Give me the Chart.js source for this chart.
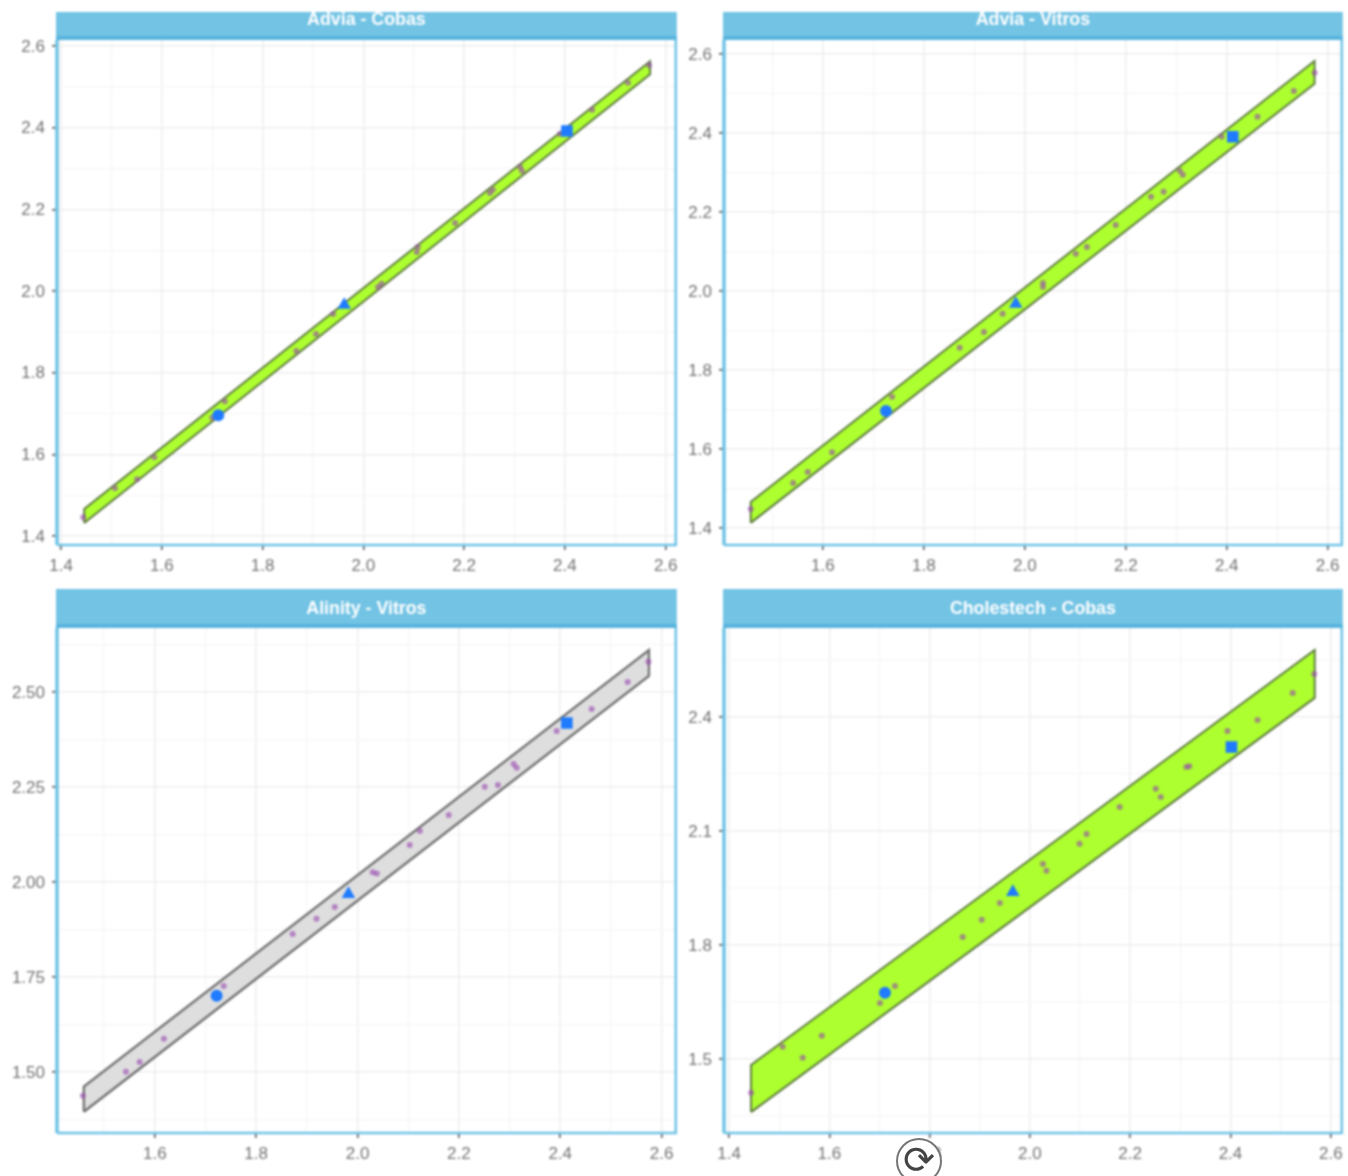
<!DOCTYPE html>
<html>
<head>
<meta charset="utf-8">
<title>Method comparison panels</title>
<script src="https://cdn.jsdelivr.net/npm/chart.js@4"></script>
<style>
html,body{margin:0;padding:0;background:#fff;width:1348px;height:1176px;overflow:hidden}
canvas{position:absolute;filter:blur(1.1px)}
#rerun{position:absolute;left:896px;top:1138px;width:42px;height:42px;border:2px solid #777;border-radius:50%;background:#fff;
 color:#444;font:38px/40px "DejaVu Sans",sans-serif;text-align:center;filter:blur(0.7px)}
</style>
</head>
<body>
<canvas id="c1" style="left:0;top:0"></canvas>
<canvas id="c2" style="left:680px;top:0"></canvas>
<canvas id="c3" style="left:0;top:582px"></canvas>
<canvas id="c4" style="left:680px;top:582px"></canvas>
<div id="rerun">⟳</div>
<script>
// Panel 1: Advia - Cobas
const p1Title = "Advia - Cobas";
const p1X = [1.444,1.507,1.551,1.585,1.700,1.725,1.867,1.906,1.940,2.029,2.036,2.106,2.108,2.182,2.251,2.257,2.311,2.315,2.390,2.454,2.525,2.567];
const p1Y = [1.446,1.517,1.539,1.593,1.690,1.730,1.853,1.895,1.944,2.010,2.018,2.096,2.108,2.167,2.240,2.248,2.304,2.294,2.385,2.444,2.510,2.553];
const p1BandX = [1.446,1.446,2.569,2.569,1.446];
const p1BandY = [1.432,1.466,2.563,2.531,1.432];
const p1BlueX = [1.712,1.962,2.404];
const p1BlueY = [1.696,1.966,2.392];
const p1XTicks = [1.4,1.6,1.8,2.0,2.2,2.4,2.6];
const p1XMinor = [1.5,1.7,1.9,2.1,2.3,2.5];
const p1YTicks = [1.4,1.6,1.8,2.0,2.2,2.4,2.6];
const p1YMinor = [1.5,1.7,1.9,2.1,2.3,2.5];

// Panel 2: Advia - Vitros
const p2Title = "Advia - Vitros";
const p2X = [1.457,1.541,1.570,1.618,1.737,1.871,1.919,1.956,2.036,2.036,2.101,2.123,2.180,2.250,2.275,2.307,2.313,2.390,2.461,2.533,2.574];
const p2Y = [1.448,1.514,1.542,1.592,1.732,1.856,1.896,1.942,2.020,2.010,2.094,2.111,2.167,2.238,2.251,2.304,2.294,2.390,2.441,2.506,2.552];
const p2BandX = [1.457,1.457,2.574,2.574,1.457];
const p2BandY = [1.413,1.466,2.582,2.524,1.413];
const p2BlueX = [1.725,1.982,2.412];
const p2BlueY = [1.696,1.967,2.390];
const p2XTicks = [1.6,1.8,2.0,2.2,2.4,2.6];
const p2XMinor = [1.5,1.7,1.9,2.1,2.3,2.5];
const p2YTicks = [1.4,1.6,1.8,2.0,2.2,2.4,2.6];
const p2YMinor = [1.5,1.7,1.9,2.1,2.3,2.5];

// Panel 3: Alinity - Vitros
const p3Title = "Alinity - Vitros";
const p3X = [1.458,1.543,1.570,1.618,1.736,1.872,1.919,1.955,2.030,2.038,2.103,2.123,2.180,2.251,2.277,2.308,2.314,2.393,2.462,2.533,2.574];
const p3Y = [1.437,1.500,1.526,1.587,1.726,1.863,1.903,1.934,2.025,2.022,2.097,2.134,2.176,2.250,2.255,2.310,2.300,2.397,2.455,2.526,2.579];
const p3BandX = [1.460,1.460,2.575,2.575,1.460];
const p3BandY = [1.395,1.461,2.610,2.542,1.395];
const p3BlueX = [1.722,1.982,2.413];
const p3BlueY = [1.700,1.968,2.418];
const p3XTicks = [1.6,1.8,2.0,2.2,2.4,2.6];
const p3XMinor = [1.5,1.7,1.9,2.1,2.3,2.5];
const p3YTicks = [1.50,1.75,2.00,2.25,2.50];
const p3YMinor = [1.375,1.625,1.875,2.125,2.375,2.625];

// Panel 4: Cholestech - Cobas
const p4Title = "Cholestech - Cobas";
const p4X = [1.444,1.507,1.547,1.585,1.701,1.731,1.866,1.904,1.940,2.026,2.033,2.099,2.113,2.179,2.251,2.261,2.312,2.318,2.394,2.454,2.524,2.567];
const p4Y = [1.411,1.532,1.503,1.561,1.647,1.692,1.821,1.866,1.910,2.013,1.995,2.066,2.092,2.163,2.211,2.189,2.268,2.270,2.363,2.392,2.463,2.513];
const p4BandX = [1.444,1.444,2.568,2.568,1.444];
const p4BandY = [1.360,1.484,2.576,2.450,1.360];
const p4BlueX = [1.711,1.966,2.402];
const p4BlueY = [1.674,1.939,2.321];
const p4XTicks = [1.4,1.6,1.8,2.0,2.2,2.4,2.6];
const p4XMinor = [1.5,1.7,1.9,2.1,2.3,2.5];
const p4YTicks = [1.5,1.8,2.1,2.4];
const p4YMinor = [1.35,1.65,1.95,2.25,2.55];

const FONT = '"Liberation Sans", Arial, sans-serif';
const pairs = (xs, ys) => xs.map((x, i) => ({ x, y: ys[i] }));

function axis(pos, min, max, majors, minors, digits, fit) {
  const isMajor = v => majors.some(m => Math.abs(m - v) < 1e-6);
  return {
    type: 'linear', position: pos, min, max,
    afterBuildTicks: a => {
      a.ticks = majors.concat(minors).sort((p, q) => p - q).map(v => ({ value: v }));
    },
    afterFit: fit,
    border: { display: false },
    grid: {
      color: c => isMajor(c.tick.value) ? '#eeeeee' : '#f6f6f6',
      lineWidth: c => isMajor(c.tick.value) ? 1.6 : 1.3,
      tickLength: 5,
      tickColor: c => isMajor(c.tick.value) ? '#555555' : 'rgba(0,0,0,0)'
    },
    ticks: {
      autoSkip: false, maxRotation: 0, minRotation: 0,
      padding: pos === 'left' ? 7 : 6,
      labelOffset: pos === 'left' ? 1 : 0,
      color: '#727272',
      font: { family: FONT, size: 17 },
      callback: v => isMajor(v) ? v.toFixed(digits) : ''
    }
  };
}

const frame = {
  id: 'frame',
  beforeDraw(chart, args, o) {
    const { ctx, chartArea: a } = chart;
    ctx.save();
    ctx.fillStyle = '#72c3e4';
    ctx.fillRect(a.left - 1, o.stripTop, a.width + 2, a.top - o.stripTop);
    ctx.fillStyle = '#58b4dd';
    ctx.fillRect(a.left - 1, a.top - 4, a.width + 2, 4);
    ctx.restore();
  },
  afterDatasetsDraw(chart) {
    const { ctx, chartArea: a } = chart;
    ctx.save();
    ctx.strokeStyle = '#6fc3e6';
    ctx.lineWidth = 2.5;
    ctx.beginPath();
    ctx.moveTo(a.right, a.top); ctx.lineTo(a.right, a.bottom); ctx.lineTo(a.left, a.bottom);
    ctx.stroke();
    ctx.lineWidth = 3.5;
    ctx.beginPath();
    ctx.moveTo(a.left, a.top); ctx.lineTo(a.left, a.bottom);
    ctx.stroke();
    ctx.restore();
  }
};

function panel(id, cfg) {
  const el = document.getElementById(id);
  el.width = cfg.w; el.height = cfg.h;
  el.style.width = cfg.w + 'px'; el.style.height = cfg.h + 'px';
  return new Chart(el, {
    type: 'scatter',
    plugins: [frame],
    data: {
      datasets: [
        { label: 'Reference', data: pairs(cfg.blueX, cfg.blueY), showLine: false,
          pointStyle: ['circle', 'triangle', 'rect'], pointRadius: [6, 7.8, 8.2],
          pointBackgroundColor: '#1f7bff', pointBorderWidth: 0 },
        { label: 'Samples', data: pairs(cfg.x, cfg.y), showLine: false,
          pointRadius: 3, pointBackgroundColor: 'rgba(150,70,175,0.6)', pointBorderWidth: 0 },
        { label: 'Band', data: pairs(cfg.bandX, cfg.bandY), showLine: true, tension: 0,
          fill: 'shape', backgroundColor: cfg.bandFill, borderColor: cfg.bandLine, borderWidth: cfg.bandWidth,
          pointRadius: 0 }
      ]
    },
    options: {
      responsive: false, animation: false,
      scales: {
        x: axis('bottom', cfg.xMin, cfg.xMax, cfg.xTicks, cfg.xMinor, 1, a => { a.height = cfg.axisH; }),
        y: axis('left', cfg.yMin, cfg.yMax, cfg.yTicks, cfg.yMinor, cfg.yDigits, a => { a.width = cfg.axisW; })
      },
      plugins: {
        legend: { display: false }, tooltip: { enabled: false },
        frame: { stripTop: cfg.stripTop },
        title: {
          display: true, text: cfg.title, color: '#ffffff', fullSize: false,
          font: { family: FONT, size: 17.8, weight: 'bold', lineHeight: 1 },
          padding: { top: cfg.titleTop, bottom: cfg.titleBottom }
        }
      }
    }
  });
}

const green = '#adff2f', greenLine = '#5f7d3f', grey = '#dedede', greyLine = '#6f6f6f';

panel('c1', { w: 684, h: 582, axisW: 57, axisH: 37, stripTop: 12, titleTop: 11.1, titleBottom: 11.1,
  title: p1Title, x: p1X, y: p1Y, bandX: p1BandX, bandY: p1BandY, blueX: p1BlueX, blueY: p1BlueY,
  xMin: 1.392, xMax: 2.62, yMin: 1.378, yMax: 2.615, xTicks: p1XTicks, xMinor: p1XMinor, yTicks: p1YTicks, yMinor: p1YMinor, yDigits: 1,
  bandFill: green, bandLine: greenLine, bandWidth: 2 });

panel('c2', { w: 670, h: 582, axisW: 44, axisH: 37, stripTop: 12, titleTop: 11.1, titleBottom: 11.1,
  title: p2Title, x: p2X, y: p2Y, bandX: p2BandX, bandY: p2BandY, blueX: p2BlueX, blueY: p2BlueY,
  xMin: 1.404, xMax: 2.628, yMin: 1.357, yMax: 2.635, xTicks: p2XTicks, xMinor: p2XMinor, yTicks: p2YTicks, yMinor: p2YMinor, yDigits: 1,
  bandFill: green, bandLine: greenLine, bandWidth: 2 });

panel('c3', { w: 684, h: 594, axisW: 57, axisH: 43, stripTop: 7, titleTop: 18.1, titleBottom: 10.1,
  title: p3Title, x: p3X, y: p3Y, bandX: p3BandX, bandY: p3BandY, blueX: p3BlueX, blueY: p3BlueY,
  xMin: 1.407, xMax: 2.628, yMin: 1.339, yMax: 2.668, xTicks: p3XTicks, xMinor: p3XMinor, yTicks: p3YTicks, yMinor: p3YMinor, yDigits: 2,
  bandFill: grey, bandLine: greyLine, bandWidth: 2.3 });

panel('c4', { w: 670, h: 594, axisW: 44, axisH: 43, stripTop: 7, titleTop: 18.1, titleBottom: 10.1,
  title: p4Title, x: p4X, y: p4Y, bandX: p4BandX, bandY: p4BandY, blueX: p4BlueX, blueY: p4BlueY,
  xMin: 1.39, xMax: 2.622, yMin: 1.305, yMax: 2.634, xTicks: p4XTicks, xMinor: p4XMinor, yTicks: p4YTicks, yMinor: p4YMinor, yDigits: 1,
  bandFill: green, bandLine: greenLine, bandWidth: 2 });
</script>
</body>
</html>
